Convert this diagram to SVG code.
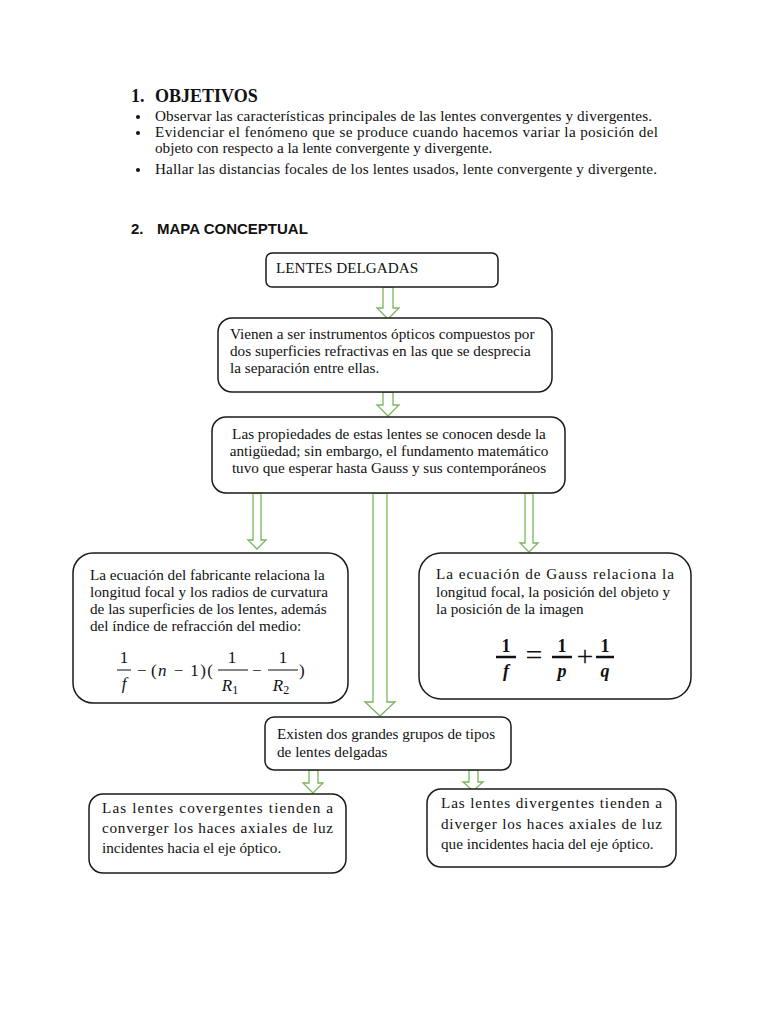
<svg xmlns="http://www.w3.org/2000/svg" width="768" height="1024" viewBox="0 0 768 1024">
<style>
.t{font-family:"Liberation Serif","Times New Roman",serif;font-size:15.2px;fill:#111}
.h1{font-family:"Liberation Serif","Times New Roman",serif;font-size:18px;font-weight:bold;fill:#111}
.h2{font-family:"Liberation Sans",Arial,sans-serif;font-size:15px;font-weight:bold;fill:#111}
.box{fill:#fff;stroke:#1a1a1a;stroke-width:1.5}
.arr{fill:#fff;stroke:#7ab55c;stroke-width:1.3;stroke-linejoin:miter}
.m{font-family:"Liberation Serif","Times New Roman",serif;font-size:17px;fill:#111}
.op{font-family:"Liberation Serif","Times New Roman",serif;font-size:30px;fill:#111}
.mi{font-family:"Liberation Serif","Times New Roman",serif;font-size:17px;font-style:italic;fill:#111}
.mb{font-family:"Liberation Serif","Times New Roman",serif;font-size:18px;font-weight:bold;fill:#111}
.bar{stroke:#111;stroke-width:1}
.barb{stroke:#111;stroke-width:2.5}
</style>
<rect width="768" height="1024" fill="#fff"/>

<g id="objetivos">
<text class="h1" x="131" y="102">1.</text>
<text class="h1" x="155" y="102">OBJETIVOS</text>
<circle cx="138" cy="117" r="2" fill="#111"/>
<text class="t" x="155" y="121" textLength="497" lengthAdjust="spacing">Observar las características principales de las lentes convergentes y divergentes.</text>
<circle cx="138" cy="133" r="2" fill="#111"/>
<text class="t" x="155" y="137" textLength="503" lengthAdjust="spacing">Evidenciar el fenómeno que se produce cuando hacemos variar la posición del</text>
<text class="t" x="155" y="153">objeto con respecto a la lente convergente y divergente.</text>
<circle cx="138" cy="170" r="2" fill="#111"/>
<text class="t" x="155" y="174" textLength="502" lengthAdjust="spacing">Hallar las distancias focales de los lentes usados, lente convergente y divergente.</text>
<text class="h2" x="131" y="234">2.</text>
<text class="h2" x="157" y="234">MAPA CONCEPTUAL</text>
</g>

<g id="connectors">
<polygon class="arr" points="383,287 393,287 393,308 399,308 388,319 377,308 383,308"/>
<polygon class="arr" points="383,392 393,392 393,405 399,405 388,416 377,405 383,405"/>
<polygon class="arr" points="253,493 261,493 261,540 266,540 257,549 248,540 253,540"/>
<polygon class="arr" points="373,493 387,493 387,702 395,702 380,716 365,702 373,702"/>
<polygon class="arr" points="525,493 533,493 533,543 538,543 529,552 520,543 525,543"/>
<polygon class="arr" points="309,770 318,770 318,783 323,783 313,793 303,783 309,783"/>
<polygon class="arr" points="469,770 478,770 478,782 483,782 473,791 463,782 469,782"/>
</g>

<g id="n1">
<rect class="box" x="266" y="253" width="232" height="34" rx="6"/>
<text class="t" x="276" y="273">LENTES DELGADAS</text>
</g>

<g id="n2">
<rect class="box" x="218" y="318" width="334" height="74" rx="14"/>
<text class="t" x="230" y="339">Vienen a ser instrumentos ópticos compuestos por</text>
<text class="t" x="230" y="356">dos superficies refractivas en las que se desprecia</text>
<text class="t" x="230" y="373">la separación entre ellas.</text>
</g>

<g id="n3">
<rect class="box" x="212" y="417" width="353" height="76" rx="14"/>
<text class="t" x="389" y="439" text-anchor="middle">Las propiedades de estas lentes se conocen desde la</text>
<text class="t" x="389" y="456" text-anchor="middle">antigüedad; sin embargo, el fundamento matemático</text>
<text class="t" x="389" y="473" text-anchor="middle">tuvo que esperar hasta Gauss y sus contemporáneos</text>
</g>

<g id="n4">
<rect class="box" x="73" y="553" width="275" height="150" rx="20"/>
<text class="t" x="90" y="580">La ecuación del fabricante relaciona la</text>
<text class="t" x="90" y="597">longitud focal y los radios de curvatura</text>
<text class="t" x="90" y="614">de las superficies de los lentes, además</text>
<text class="t" x="90" y="631">del índice de refracción del medio:</text>
<text class="m" x="124" y="663" text-anchor="middle">1</text>
<line class="bar" x1="117" y1="670" x2="131" y2="670"/>
<text class="mi" x="124" y="689" text-anchor="middle">f</text>
<text class="m" x="137" y="676">−</text>
<text class="m" x="151" y="676" textLength="62" lengthAdjust="spacing">(<tspan font-style="italic">n</tspan> − 1)(</text>
<text class="m" x="232" y="663" text-anchor="middle">1</text>
<line class="bar" x1="218" y1="670" x2="248" y2="670"/>
<text class="mi" x="230" y="691" text-anchor="middle">R<tspan font-style="normal" font-size="12" dy="3">1</tspan></text>
<text class="m" x="252" y="676">−</text>
<text class="m" x="283" y="663" text-anchor="middle">1</text>
<line class="bar" x1="268" y1="670" x2="298" y2="670"/>
<text class="mi" x="281" y="691" text-anchor="middle">R<tspan font-style="normal" font-size="12" dy="3">2</tspan></text>
<text class="m" x="299" y="676">)</text>
</g>

<g id="n5">
<rect class="box" x="419" y="553" width="272" height="146" rx="22"/>
<text class="t" x="436" y="579" textLength="238" lengthAdjust="spacing">La ecuación de Gauss relaciona la</text>
<text class="t" x="436" y="597">longitud focal, la posición del objeto y</text>
<text class="t" x="436" y="614">la posición de la imagen</text>
<text class="mb" x="506" y="652" text-anchor="middle">1</text>
<line class="barb" x1="496" y1="657" x2="516" y2="657"/>
<text class="mb" x="506" y="677" text-anchor="middle" font-style="italic">f</text>
<text class="op" x="534" y="665" text-anchor="middle">=</text>
<text class="mb" x="562" y="652" text-anchor="middle">1</text>
<line class="barb" x1="552" y1="657" x2="572" y2="657"/>
<text class="mb" x="562" y="677" text-anchor="middle" font-style="italic">p</text>
<text class="op" x="585" y="666" text-anchor="middle">+</text>
<text class="mb" x="605" y="652" text-anchor="middle">1</text>
<line class="barb" x1="596" y1="657" x2="614" y2="657"/>
<text class="mb" x="605" y="677" text-anchor="middle" font-style="italic">q</text>
</g>

<g id="n6">
<rect class="box" x="265" y="717" width="246" height="53" rx="9"/>
<text class="t" x="277" y="739">Existen dos grandes grupos de tipos</text>
<text class="t" x="277" y="757">de lentes delgadas</text>
</g>

<g id="n7">
<rect class="box" x="89" y="794" width="257" height="79" rx="14"/>
<text class="t" x="102" y="813" textLength="231" lengthAdjust="spacing">Las lentes covergentes tienden a</text>
<text class="t" x="102" y="833" textLength="231" lengthAdjust="spacing">converger los haces axiales de luz</text>
<text class="t" x="102" y="853">incidentes hacia el eje óptico.</text>
</g>

<g id="n8">
<rect class="box" x="427" y="789" width="249" height="78" rx="14"/>
<text class="t" x="441" y="808" textLength="221" lengthAdjust="spacing">Las lentes divergentes tienden a</text>
<text class="t" x="441" y="829" textLength="221" lengthAdjust="spacing">diverger los haces axiales de luz</text>
<text class="t" x="441" y="849">que incidentes hacia del eje óptico.</text>
</g>
</svg>
